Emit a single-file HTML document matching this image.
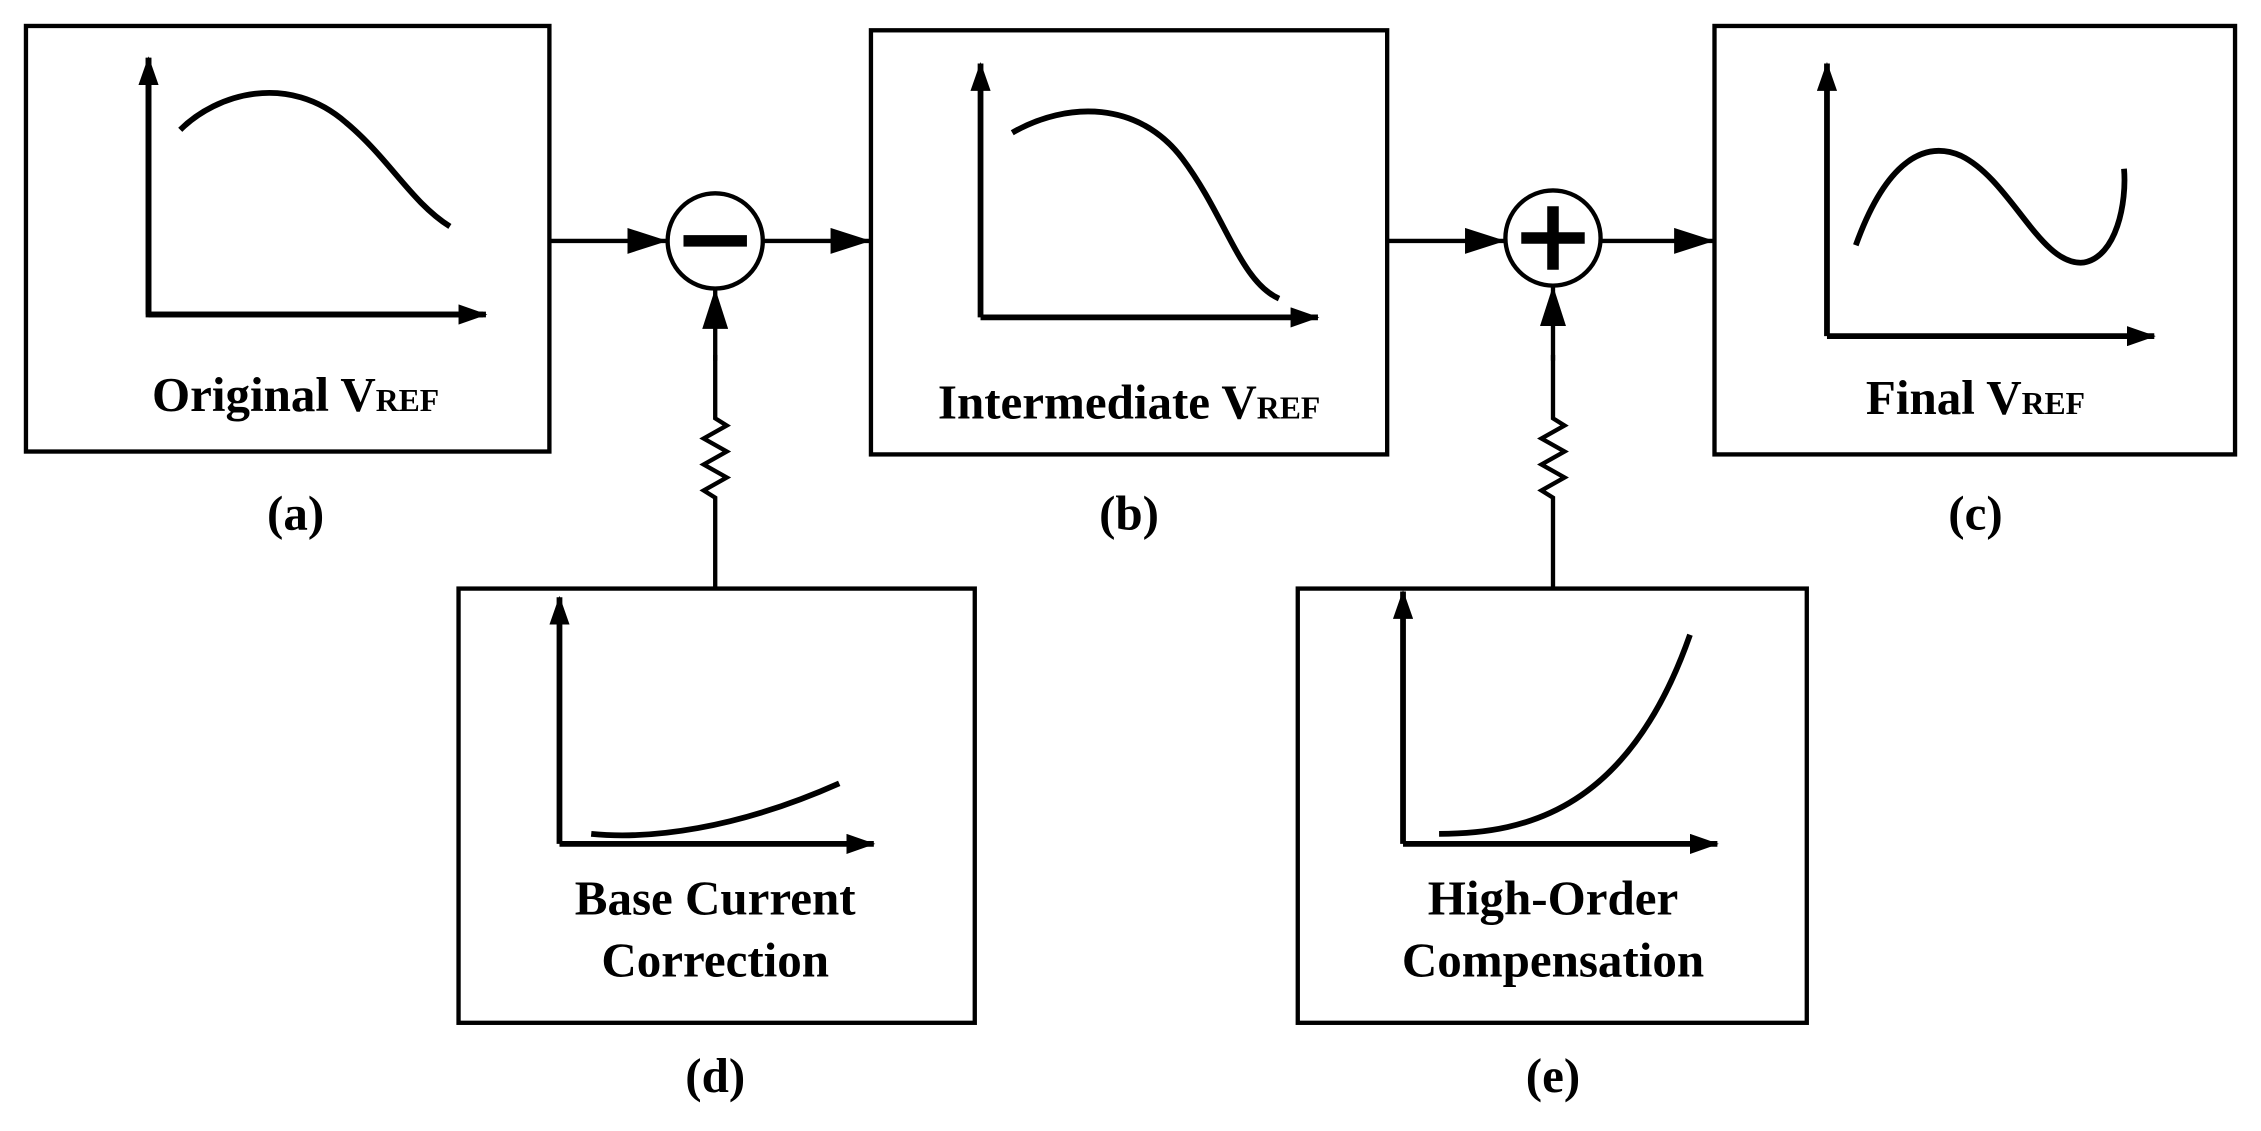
<!DOCTYPE html>
<html><head><style>html,body{margin:0;padding:0;background:#fff}svg{display:block}</style></head><body>
<svg width="2261" height="1131" viewBox="0 0 1568 784" preserveAspectRatio="none" xmlns="http://www.w3.org/2000/svg">
<defs><marker id="ah" markerWidth="10" markerHeight="8" refX="9" refY="4" orient="auto" markerUnits="userSpaceOnUse" viewBox="0 0 10 8"><path d="M0,0 L10,4 L0,8 z" fill="#000"/></marker>
<marker id="big" markerWidth="28" markerHeight="18" refX="27" refY="9" orient="auto" markerUnits="userSpaceOnUse" viewBox="0 0 28 18"><path d="M0,0 L28,9 L0,18 z" fill="#000"/></marker>
<marker id="sm" markerWidth="20" markerHeight="14" refX="19" refY="7" orient="auto" markerUnits="userSpaceOnUse" viewBox="0 0 20 14"><path d="M0,0 L20,7 L0,14 z" fill="#000"/></marker></defs>
<g fill="none" stroke="#000" stroke-width="3">
<rect x="18" y="18" width="363" height="295"/>
<rect x="604" y="21" width="358" height="294"/>
<rect x="1189" y="18" width="361" height="297"/>
<rect x="318" y="408" width="358" height="301"/>
<rect x="900" y="408" width="353" height="301"/>
<circle cx="496" cy="167" r="33"/>
<circle cx="1077" cy="165" r="33"/>
<line x1="381" y1="167" x2="462" y2="167" marker-end="url(#big)"/>
<line x1="529" y1="167" x2="603" y2="167" marker-end="url(#big)"/>
<line x1="962" y1="167" x2="1043" y2="167" marker-end="url(#big)"/>
<line x1="1110" y1="167" x2="1188" y2="167" marker-end="url(#big)"/>
<polyline points="496,408 496,345 488,340 504,331 488,322 504,313 488,304 504,295 496,290 496,246"/>
<line x1="496" y1="250" x2="496" y2="201" marker-end="url(#big)"/>
<polyline points="1077,408 1077,345 1069,340 1085,331 1069,322 1085,313 1069,304 1085,295 1077,290 1077,246"/>
<line x1="1077" y1="250" x2="1077" y2="199" marker-end="url(#big)"/>
<g stroke-width="4">
<polyline points="103,40 103,218 335,218"/><line x1="103" y1="218" x2="337" y2="218" marker-end="url(#sm)"/><line x1="103" y1="218" x2="103" y2="40" marker-end="url(#sm)"/>
<path d="M125,90 C150,65 200,50 240,85 C270,110 285,140 312,157"/>
<line x1="680" y1="220" x2="914" y2="220" marker-end="url(#sm)"/><line x1="680" y1="220" x2="680" y2="44" marker-end="url(#sm)"/>
<path d="M702,92 C740,70 790,70 820,110 C850,150 860,195 887,207"/>
<line x1="1267" y1="233" x2="1494" y2="233" marker-end="url(#sm)"/><line x1="1267" y1="233" x2="1267" y2="44" marker-end="url(#sm)"/>
<path d="M1287,170 C1305,120 1330,95 1360,108 C1395,125 1415,185 1445,182 C1468,178 1475,140 1473,117"/>
<line x1="388" y1="585" x2="606" y2="585" marker-end="url(#sm)"/><line x1="388" y1="585" x2="388" y2="414" marker-end="url(#sm)"/>
<path d="M410,578 C450,582 510,575 582,543"/>
<line x1="973" y1="585" x2="1191" y2="585" marker-end="url(#sm)"/><line x1="973" y1="585" x2="973" y2="410" marker-end="url(#sm)"/>
<path d="M998,578 C1060,578 1130,560 1172,440"/>
</g>
<line x1="474" y1="167" x2="518" y2="167" stroke-width="8"/>
<line x1="1055" y1="165" x2="1099" y2="165" stroke-width="8"/>
<line x1="1077" y1="143" x2="1077" y2="187" stroke-width="8"/>
</g>
<g font-family="Liberation Serif, serif" font-weight="bold" font-size="34" text-anchor="middle" fill="#000">
<text x="205" y="285">Original V<tspan font-size="22">REF</tspan></text>
<text x="783" y="290">Intermediate V<tspan font-size="22">REF</tspan></text>
<text x="1370" y="287">Final V<tspan font-size="22">REF</tspan></text>
<text x="205" y="367">(a)</text>
<text x="783" y="367">(b)</text>
<text x="1370" y="367">(c)</text>
<text x="496" y="634">Base Current</text>
<text x="496" y="677">Correction</text>
<text x="1077" y="634">High-Order</text>
<text x="1077" y="677">Compensation</text>
<text x="496" y="757">(d)</text>
<text x="1077" y="757">(e)</text>
</g>
</svg>
</body></html>
